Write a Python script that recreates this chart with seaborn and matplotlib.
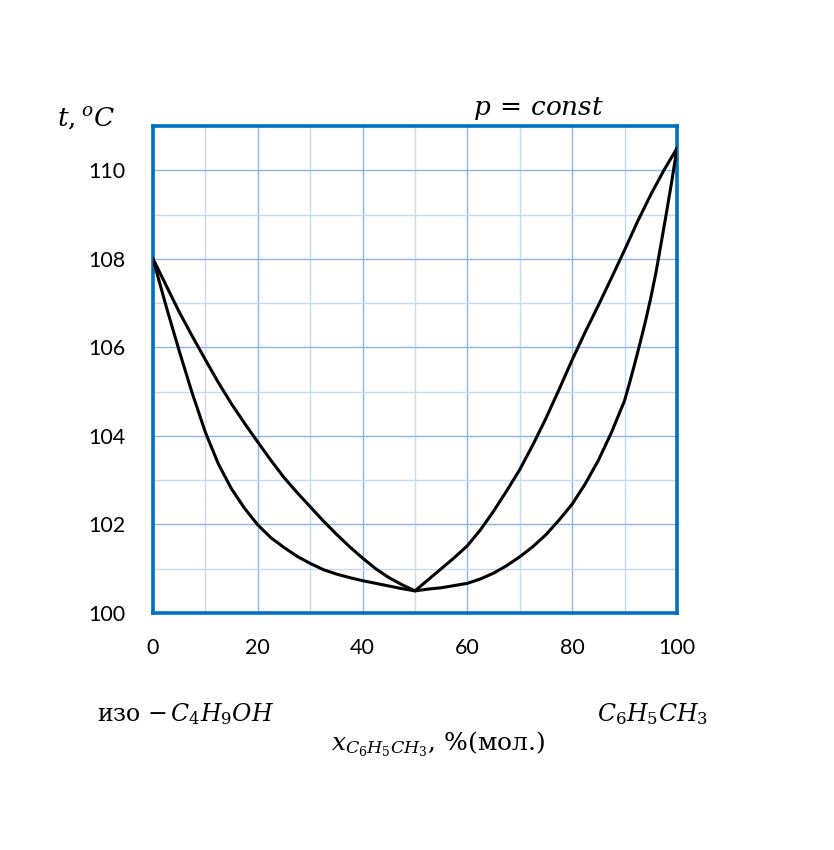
import numpy as np
import pandas as pd
import matplotlib
matplotlib.use('Agg')
import matplotlib.pyplot as plt
from matplotlib.ticker import MultipleLocator
import seaborn as sns

# ------------------------------------------------------------------ #
# Data: boiling (liquid) and dew (vapour) curves
# ------------------------------------------------------------------ #
liquid_x = [0, 2.5, 5, 7.5, 10, 12.5, 15, 17.5, 20, 22.5, 25, 27.5, 30, 32.5,
            35, 37.5, 40, 42.5, 45, 47.5, 50, 52.5, 55, 57.5, 60, 62.5, 65,
            67.5, 70, 72.5, 75, 77.5, 80, 82.5, 85, 87.5, 90, 91, 92, 93, 94,
            95, 96, 97, 98, 99, 100]
liquid_t = [108.0, 106.93, 105.92, 104.96, 104.08, 103.36, 102.8, 102.36,
            101.99, 101.7, 101.48, 101.28, 101.12, 100.98, 100.88, 100.8,
            100.73, 100.67, 100.61, 100.55, 100.5, 100.54, 100.57, 100.62,
            100.67, 100.77, 100.9, 101.07, 101.27, 101.5, 101.77, 102.1,
            102.46, 102.92, 103.45, 104.08, 104.8, 105.22, 105.66, 106.12,
            106.6, 107.12, 107.7, 108.37, 109.05, 109.75, 110.5]

vapour_x = [0, 2.5, 5, 7.5, 10, 12.5, 15, 17.5, 20, 22.5, 25, 27.5, 30, 32.5,
            35, 37.5, 40, 42.5, 45, 47.5, 50, 52.5, 55, 57.5, 60, 62.5, 65,
            67.5, 70, 72.5, 75, 77.5, 80, 82.5, 85, 87.5, 90, 92.5, 95, 97.5,
            100]
vapour_t = [108.0, 107.4, 106.8, 106.25, 105.72, 105.2, 104.72, 104.28,
            103.86, 103.45, 103.06, 102.72, 102.4, 102.08, 101.78, 101.5,
            101.24, 101.0, 100.8, 100.64, 100.5, 100.75, 101.0, 101.25,
            101.52, 101.88, 102.3, 102.76, 103.24, 103.8, 104.4, 105.05,
            105.72, 106.35, 106.95, 107.57, 108.2, 108.85, 109.45, 110.0,
            110.5]

x_ticks = [0, 20, 40, 60, 80, 100]
t_ticks = [100, 102, 104, 106, 108, 110]

liquid = pd.DataFrame({'x': liquid_x, 't': liquid_t})
vapour = pd.DataFrame({'x': vapour_x, 't': vapour_t})

# ------------------------------------------------------------------ #
# Style
# ------------------------------------------------------------------ #
sns.set_style('white')
plt.rcParams['font.family'] = ['Lato', 'DejaVu Sans']
plt.rcParams['mathtext.fontset'] = 'dejavuserif'
plt.rcParams['text.color'] = 'black'

SPINE = '#0070C0'
MAJOR_GRID = '#8EB4E3'
MINOR_GRID = '#C6D9F1'

fig = plt.figure(figsize=(8.34, 8.5), dpi=100)
ax = fig.add_axes([153 / 834, 237 / 850, 524 / 834, 487 / 850])

sns.lineplot(data=liquid, x='x', y='t', ax=ax, color='black', linewidth=2.2,
             sort=False, estimator=None, zorder=3)
sns.lineplot(data=vapour, x='x', y='t', ax=ax, color='black', linewidth=2.2,
             sort=False, estimator=None, zorder=3)

ax.set_xlim(0, 100)
ax.set_ylim(100, 111)
ax.set_xticks(x_ticks)
ax.set_yticks(t_ticks)
ax.xaxis.set_minor_locator(MultipleLocator(10))
ax.yaxis.set_minor_locator(MultipleLocator(1))

ax.grid(True, which='major', color=MAJOR_GRID, linewidth=1.0, zorder=0)
ax.grid(True, which='minor', color=MINOR_GRID, linewidth=1.0, zorder=0)
ax.set_axisbelow(True)

ax.tick_params(which='both', direction='in', length=6, width=1,
               color='#808080', labelsize=15.5, labelcolor='black')
ax.tick_params(axis='x', which='both', pad=18, top=False)
ax.tick_params(axis='y', which='both', pad=20, right=False)

for s in ax.spines.values():
    s.set_color(SPINE)
    s.set_linewidth(2.6)
    s.set_visible(True)

ax.set_xlabel('')
ax.set_ylabel('')

# ------------------------------------------------------------------ #
# Labels
# ------------------------------------------------------------------ #
serif = ['DejaVu Serif']
fig.text(0.103, 0.861, r'$t,{}^{o}C$', fontsize=19, ha='center', va='center')
fig.text(0.646, 0.872, r'$p\,=\,const$', fontsize=19, ha='center', va='center')
fig.text(0.222, 0.160, r'изо $-\,C_4H_9OH$', fontsize=17, ha='center',
         va='center', family=serif)
fig.text(0.782, 0.160, r'$C_6H_5CH_3$', fontsize=17, ha='center', va='center')
fig.text(0.525, 0.125, r'$x_{C_6H_5CH_3}$, %(мол.)', fontsize=18,
         ha='center', va='center', family=serif)

fig.savefig('out.png', dpi=100, facecolor='white')
